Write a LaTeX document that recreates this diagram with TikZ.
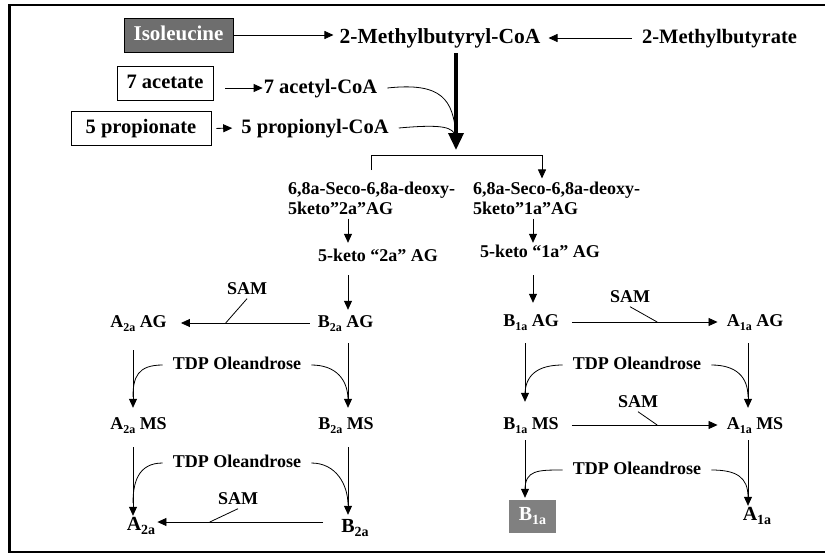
\documentclass[tikz,border=0pt]{standalone}
\usepackage{fontspec}
\setmainfont{Liberation Serif}
\usetikzlibrary{arrows.meta, calc}
\definecolor{isogrey}{RGB}{110,110,110}
\definecolor{prodgrey}{RGB}{128,128,128}
\newcommand{\lowidx}[2][12]{\raisebox{-0.45ex}{\fontsize{#1}{#1}\selectfont #2}}

\begin{document}
\begin{tikzpicture}[x=1pt, y=-1pt, font=\bfseries]
  \tikzset{
    feed_text/.style={font=\bfseries\fontsize{20.5}{22}\selectfont, inner sep=0pt, text height=15pt, text depth=5pt},
    feed_box/.style={feed_text, draw, line width=0.8pt, minimum height=34pt},
    grey_box/.style={feed_text, fill=isogrey, draw=black, line width=0.8pt, text=white, minimum height=34pt},
    seco_text/.style={font=\bfseries\fontsize{18}{20}\selectfont, inner sep=0pt, align=left, anchor=west},
    step_text/.style={font=\bfseries\fontsize{18}{20}\selectfont, inner sep=0pt, text height=13pt, text depth=4pt},
    prod_text/.style={font=\bfseries\fontsize{20}{22}\selectfont, inner sep=0pt, text height=14pt, text depth=6pt},
    thin_line/.style={line width=0.8pt},
    thin_arrow/.style={-{Triangle[length=9pt, width=8pt]}, line width=0.8pt},
    thick_arrow/.style={-{Triangle[length=17pt, width=15pt]}, line width=3.5pt},
    curl_line/.style={line width=0.8pt},
    frame_line/.style={line width=2.5pt}
  }
  \useasboundingbox (0,0) rectangle (825,554);

  % Draw the open frame round the scheme
  \draw[frame_line] (825,5) -- (9.5,5) -- (9.5,552) -- (825,552);

  % Precursors and their CoA esters
  \node[grey_box, minimum width=109pt, font=\bfseries\fontsize{21}{22}\selectfont] (iso) at (178.5,35) {Isoleucine};
  \node[feed_text, font=\bfseries\fontsize{21.5}{22}\selectfont] (mbcoa) at (440,38) {2-Methylbutyryl-CoA};
  \node[feed_text] (mbrate) at (719.5,38) {2-Methylbutyrate};
  \node[feed_box, minimum width=96pt] (acetate) at (165,83) {7 acetate};
  \node[feed_text] (acetylcoa) at (320.5,88) {7 acetyl-CoA};
  \node[feed_box, minimum width=140pt] (propionate) at (141,128.5) {5 propionate};
  \node[feed_text] (propcoa) at (315,128) {5 propionyl-CoA};

  % Aglycone intermediates
  \node[seco_text] (seco2) at (288,198) {6,8a-Seco-6,8a-deoxy-\\5keto”2a”AG};
  \node[seco_text] (seco1) at (473,198) {6,8a-Seco-6,8a-deoxy-\\5keto”1a”AG};
  \node[step_text] (keto2) at (378,257) {5-keto “2a” AG};
  \node[step_text] (keto1) at (540,253) {5-keto “1a” AG};
  \node[step_text] (a2ag) at (138.5,323) {A\lowidx{2a} AG};
  \node[step_text] (b2ag) at (345.5,323) {B\lowidx{2a} AG};
  \node[step_text] (b1ag) at (531,322) {B\lowidx{1a} AG};
  \node[step_text] (a1ag) at (755,322) {A\lowidx{1a} AG};
  \node[step_text] (a2ms) at (138.5,425) {A\lowidx{2a} MS};
  \node[step_text] (b2ms) at (346,425) {B\lowidx{2a} MS};
  \node[step_text] (b1ms) at (531,425) {B\lowidx{1a} MS};
  \node[step_text] (a1ms) at (755,425) {A\lowidx{1a} MS};

  % Final products
  \node[prod_text] (a2) at (141,526) {A\lowidx[14]{2a}};
  \node[prod_text] (b2) at (355,528) {B\lowidx[14]{2a}};
  \node[prod_text, fill=prodgrey, text=white, minimum width=47pt, minimum height=33pt] (b1) at (532.5,516.5) {B\lowidx[14]{1a}};
  \node[prod_text] (a1) at (757,516) {A\lowidx[14]{1a}};

  % Reagent labels
  \foreach \nm/\px/\py in {sam1/247/290, sam2/630/298, sam3/638/403, sam4/238/500}
    \node[step_text] (\nm) at (\px,\py) {SAM};
  \foreach \nm/\px/\py in {tdp1/237/365, tdp2/237/463, tdp3/637/365, tdp4/637/470}
    \node[step_text] (\nm) at (\px,\py) {TDP Oleandrose};

  % Columns and branch points
  \coordinate (colA2) at (133,0);
  \coordinate (colB2) at (348,0);
  \coordinate (colS1) at (533,0);
  \coordinate (colB1) at (525,0);
  \coordinate (colA1) at (748,0);
  \coordinate (merge) at (456,150);
  \coordinate (split_l) at (371,155);
  \coordinate (split_r) at (542,155);

  % Feeding arrows at the top
  \draw[thin_arrow, shorten >=6pt] (iso.east) -- (iso.east -| mbcoa.west);
  \draw[thin_arrow, shorten <=10pt, shorten >=8pt] (mbrate.west) -- (mbcoa.east);
  \draw[thin_arrow, shorten <=12pt, shorten >=1pt] (acetate.east |- acetylcoa.west) -- (acetylcoa.west);
  \draw[thin_arrow, shorten <=5pt, shorten >=9pt] (propionate.east) -- (propcoa.west);
  \draw[thick_arrow, shorten <=5pt] (mbcoa.south -| merge) -- (merge);
  \draw[curl_line] ([xshift=10pt]acetylcoa.east) .. controls +(55,-6) and +(-3,-35) .. ($(merge)+(0,-15)$);
  \draw[curl_line] ([xshift=10pt]propcoa.east) .. controls +(45,-4) and +(-3,-10) .. ($(merge)+(0,-13)$);

  % Split into the 2a and 1a series
  \draw[thin_line] ($(split_l)+(0,15)$) -- (split_l) -- (split_r);
  \draw[thin_arrow, shorten >=3pt] (split_r) -- (split_r |- seco1.north);

  % Vertical steps down each column
  \foreach \from/\to/\col/\sa/\sb in {seco2/keto2/colB2/4pt/5.5pt, keto2/b2ag/colB2/9.5pt/4.5pt,
      b2ag/b2ms/colB2/11.5pt/8.5pt, b2ms/b2/colB2/13.5pt/3pt, a2ag/a2ms/colA2/18.5pt/8.5pt,
      a2ms/a2/colA2/13.5pt/0pt, seco1/keto1/colS1/4pt/1.5pt, keto1/b1ag/colS1/13.5pt/10.5pt,
      b1ag/b1ms/colB1/12.5pt/14.5pt, b1ms/b1/colB1/6.5pt/2pt, a1ag/a1ms/colA1/12.5pt/8.5pt,
      a1ms/a1/colA1/6.5pt/0pt}
    \draw[thin_arrow, shorten <=\sa, shorten >=\sb] (\from.south -| \col) -- (\to.north -| \col);

  % Methylation steps (SAM)
  \draw[thin_arrow, shorten <=8pt, shorten >=14pt] (b2ag.west) -- coordinate[pos=0.61] (samfoot1) (a2ag.east);
  \draw[thin_arrow, shorten <=13pt, shorten >=9pt] (b1ag.east) -- coordinate[pos=0.586] (samfoot2) (a1ag.west);
  \draw[thin_arrow, shorten <=13pt, shorten >=9pt] (b1ms.east) -- coordinate[pos=0.586] (samfoot3) (a1ms.west);
  \draw[thin_arrow, shorten <=18pt, shorten >=2pt] ($(b2.west)+(0,-6)$) -- coordinate[pos=0.707] (samfoot4) ($(b2.west -| a2.east)+(0,-6)$);
  \foreach \i in {1,...,4}
    \draw[thin_line] (sam\i.south) -- (samfoot\i);

  % Glycosylation steps (TDP Oleandrose)
  \foreach \lbl/\lcol/\rcol/\ldrop/\rdrop in {tdp1/colA2/colB2/32/35, tdp2/colA2/colB2/40/42,
      tdp3/colB1/colA1/30/32, tdp4/colB1/colA1/20/27} {
    \draw[curl_line] ([xshift=-10pt]\lbl.west) .. controls +(-25,0) and +(0,-20) .. ($(\lbl.west -| \lcol)+(0,\ldrop)$);
    \draw[curl_line] ([xshift=10pt]\lbl.east) .. controls +(25,0) and +(0,-20) .. ($(\lbl.east -| \rcol)+(0,\rdrop)$);
  }
\end{tikzpicture}
\end{document}
